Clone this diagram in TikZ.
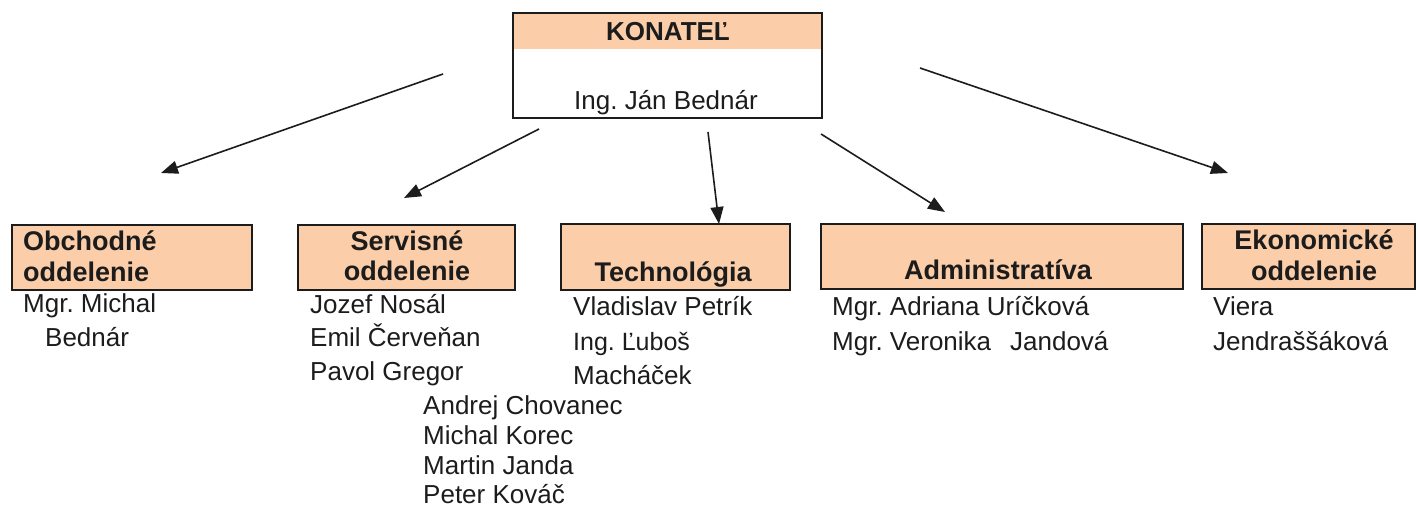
\documentclass[tikz,border=0pt]{standalone}
\usepackage{fontspec}
\setmainfont{Liberation Sans}
\usetikzlibrary{arrows.meta}
\definecolor{peach}{RGB}{251,205,168}
\definecolor{ink}{RGB}{28,28,28}
\frenchspacing
\begin{document}
\begin{tikzpicture}[x=1pt,y=-1pt,
  hbox/.style={draw=ink, line width=2pt, fill=peach, inner sep=0pt},
  hdr/.style={inner sep=0pt, font=\fontsize{27}{31}\selectfont\bfseries, text=ink},
  person/.style={inner sep=0pt, anchor=base west, font=\fontsize{26}{30}\selectfont, text=ink},
  conn/.style={draw=ink, line width=1.6pt, -{Triangle[length=17pt,width=13pt]}}
]
\useasboundingbox (0,0) rectangle (1418,510);

% top box
\fill[peach] (513,13) rectangle (822,49);
\node[draw=ink, line width=2pt, inner sep=0pt, minimum width=309pt, minimum height=105pt] (top) at (667.5,65.5) {};
\node[hdr, anchor=base, font=\fontsize{26}{30}\selectfont\bfseries] (konatel) at (668,41) {KONATEĽ};
\node[inner sep=0pt, anchor=base, font=\fontsize{26}{30}\selectfont, text=ink] (bednar) at (666,110) {Ing. Ján Bednár};

% department boxes
\node[hbox, minimum width=240pt, minimum height=65pt] (obch) at (132,257.5) {};
\node[hbox, minimum width=217pt, minimum height=65pt] (serv) at (406.5,257.5) {};
\node[hbox, minimum width=229pt, minimum height=66pt] (tech) at (675.5,257) {};
\node[hbox, minimum width=362pt, minimum height=65pt] (admin) at (1002,256.5) {};
\node[hbox, minimum width=213pt, minimum height=65pt] (ekon) at (1308.5,256.5) {};

% headers
\node[hdr, anchor=base west] (obch1) at (23,251) {Obchodné};
\node[hdr, anchor=base west] (obch2) at (23,282) {oddelenie};
\node[hdr, anchor=base] (serv1) at (407,251) {Servisné};
\node[hdr, anchor=base] (serv2) at (407,281) {oddelenie};
\node[hdr, anchor=base] (tech1) at (673,282) {Technológia};
\node[hdr, anchor=base] (admin1) at (998,280) {Administratíva};
\node[hdr, anchor=base] (ekon1) at (1314,250) {Ekonomické};
\node[hdr, anchor=base] (ekon2) at (1314,281) {oddelenie};

% people
\node[person] (p1) at (23,313) {Mgr. Michal};
\node[person] (p2) at (45,346) {Bednár};
\node[person] (p3) at (310,314) {Jozef Nosál};
\node[person] (p4) at (310,347) {Emil Červeňan};
\node[person] (p5) at (310,380) {Pavol Gregor};
\node[person] (p6) at (423,414) {Andrej Chovanec};
\node[person] (p7) at (423,444) {Michal Korec};
\node[person] (p8) at (423,474) {Martin Janda};
\node[person] (p9) at (423,503) {Peter Kováč};
\node[person] (p10) at (573,316) {Vladislav Petrík};
\node[person, font=\fontsize{25}{28}\selectfont] (p11) at (573,350) {Ing. Ľuboš};
\node[person] (p12) at (573,384) {Macháček};
\node[person] (p13) at (832,316) {Mgr. Adriana Uríčková};
\node[person] (p14) at (832,350) {Mgr. Veronika\hspace{19pt}Jandová};
\node[person] (p15) at (1213,316) {Viera};
\node[person] (p16) at (1213,350) {Jendraššáková};

% connectors
\coordinate (s1) at (443,74);   \coordinate (e1) at (161,173);
\coordinate (s2) at (539,129);  \coordinate (e2) at (404,198);
\coordinate (s3) at (708,132);  \coordinate (e3) at (719,224);
\coordinate (s4) at (821,134);  \coordinate (e4) at (945,212);
\coordinate (s5) at (920,68);   \coordinate (e5) at (1228,173);
\draw[conn] (s1) -- (e1);
\draw[conn] (s2) -- (e2);
\draw[conn] (s3) -- (e3);
\draw[conn] (s4) -- (e4);
\draw[conn] (s5) -- (e5);
\end{tikzpicture}
\end{document}
